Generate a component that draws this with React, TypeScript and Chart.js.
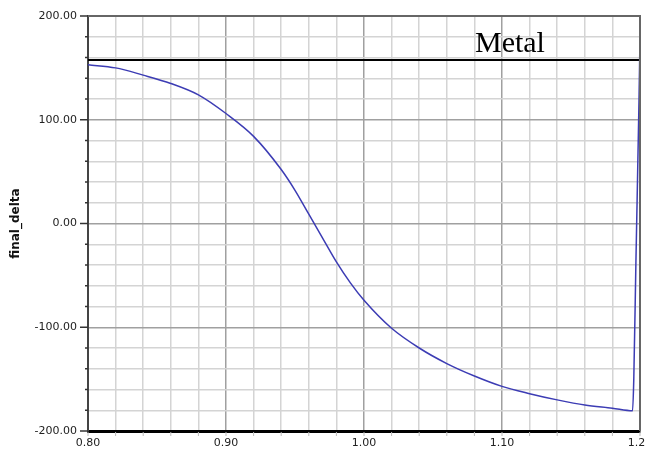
import React, { useEffect, useRef } from "react";
import { Chart, registerables } from "chart.js";

Chart.register(...registerables);

// Curve: final_delta vs x
const xValues = [
  0.8, 0.82, 0.84, 0.86, 0.88, 0.9, 0.92, 0.94, 0.95, 0.96, 0.97, 0.98, 0.99, 1.0,
  1.02, 1.04, 1.06, 1.08, 1.1, 1.12, 1.14, 1.16, 1.18, 1.1946, 1.1955, 1.197,
  1.1993, 1.2,
];
const deltaValues = [
  153, 150, 143, 135, 124, 106, 84, 52, 32, 9, -14, -37, -57, -74,
  -101, -120, -135, -147, -157, -164, -170, -175, -178, -180.5, -150, -40,
  120, 179,
];

// Horizontal "Metal" reference line
const metalLevel = 157.5;
const metalLabel = "Metal";
const metalLabelX = 1.0804;
const metalLabelY = 165.3;

const xMin = 0.8;
const xMax = 1.2;
const yMin = -200;
const yMax = 200;
const xStep = 0.02;
const yStep = 20;
const yTitle = "final_delta";

const isMajorX = (v: number) => Math.abs(v * 10 - Math.round(v * 10)) < 1e-6;
const isMajorY = (v: number) => Math.abs(v / 100 - Math.round(v / 100)) < 1e-6;

export default function App() {
  const ref = useRef<HTMLCanvasElement | null>(null);

  useEffect(() => {
    document.body.style.margin = "0";
    const canvas = ref.current;
    if (!canvas) return;

    const decor = {
      id: "decor",
      afterDraw(chart: any) {
        const { ctx, chartArea } = chart;
        const { left, right, top, bottom } = chartArea;
        const xs = chart.scales.x;
        const ys = chart.scales.y;
        ctx.save();
        // top and right frame
        ctx.strokeStyle = "#666";
        ctx.lineWidth = 2;
        ctx.beginPath();
        ctx.moveTo(left, top);
        ctx.lineTo(right, top);
        ctx.lineTo(right, bottom);
        ctx.stroke();
        // y tick marks
        ctx.strokeStyle = "#333";
        ctx.lineWidth = 1.5;
        ys.ticks.forEach((t: any) => {
          const p = ys.getPixelForValue(t.value);
          const len = isMajorY(t.value) ? 8 : 3;
          ctx.beginPath();
          ctx.moveTo(left - len, p);
          ctx.lineTo(left, p);
          ctx.stroke();
        });
        // x tick marks
        ctx.strokeStyle = "#bbb";
        ctx.lineWidth = 1;
        xs.ticks.forEach((t: any) => {
          const p = xs.getPixelForValue(t.value);
          ctx.beginPath();
          ctx.moveTo(p, bottom + 1);
          ctx.lineTo(p, bottom + 5);
          ctx.stroke();
        });
        // Metal label
        ctx.fillStyle = "#000";
        ctx.font = '30px "Liberation Serif", "Times New Roman", serif';
        ctx.textAlign = "left";
        ctx.textBaseline = "alphabetic";
        ctx.fillText(metalLabel, xs.getPixelForValue(metalLabelX), ys.getPixelForValue(metalLabelY));
        ctx.restore();
      },
    };

    const chart = new Chart(canvas, {
      type: "scatter",
      data: {
        datasets: [
          {
            data: xValues.map((x, i) => ({ x, y: deltaValues[i] })),
            showLine: true,
            borderColor: "#3c3cb4",
            borderWidth: 1.5,
            pointRadius: 0,
            cubicInterpolationMode: "monotone",
          },
          {
            data: [
              { x: xMin, y: metalLevel },
              { x: xMax, y: metalLevel },
            ],
            showLine: true,
            borderColor: "#000",
            borderWidth: 2,
            pointRadius: 0,
          },
        ],
      },
      plugins: [decor],
      options: {
        responsive: false,
        animation: false,
        layout: { padding: { top: 16, right: 6, left: 0, bottom: 0 } },
        plugins: { legend: { display: false }, tooltip: { enabled: false } },
        scales: {
          x: {
            type: "linear",
            min: xMin,
            max: xMax,
            afterFit(scale: any) {
              scale.height = 21;
              scale.paddingLeft = 0;
              scale.paddingRight = 0;
            },
            ticks: {
              stepSize: xStep,
              autoSkip: false,
              maxRotation: 0,
              padding: 6,
              color: "#222",
              font: { family: '"DejaVu Sans", Arial, sans-serif', size: 11 },
              callback: (v: any) => (isMajorX(Number(v)) ? Number(v).toFixed(2) : ""),
            },
            grid: {
              drawTicks: false,
              lineWidth: 1.5,
              color: (c: any) => (c.tick && isMajorX(c.tick.value) ? "#a0a0a0" : "#d4d4d4"),
            },
            border: { display: true, color: "#000", width: 3 },
          },
          y: {
            type: "linear",
            min: yMin,
            max: yMax,
            afterFit(scale: any) {
              scale.width = 88;
              scale.paddingTop = 0;
              scale.paddingBottom = 0;
            },
            title: {
              display: true,
              text: yTitle,
              color: "#111",
              font: { family: '"DejaVu Sans", Arial, sans-serif', size: 12, weight: "bold" },
              padding: { top: 9, bottom: 0 },
            },
            ticks: {
              stepSize: yStep,
              autoSkip: false,
              padding: 11,
              color: "#222",
              font: { family: '"DejaVu Sans", Arial, sans-serif', size: 11 },
              callback: (v: any) => (isMajorY(Number(v)) ? Number(v).toFixed(2) : ""),
            },
            grid: {
              drawTicks: false,
              lineWidth: 1.5,
              color: (c: any) => (c.tick && isMajorY(c.tick.value) ? "#a0a0a0" : "#d4d4d4"),
            },
            border: { display: true, color: "#444", width: 2 },
          },
        },
      },
    } as any);

    return () => chart.destroy();
  }, []);

  return (
    <div style={{ width: 646, height: 452 }}>
      <canvas ref={ref} width={646} height={452} />
    </div>
  );
}
